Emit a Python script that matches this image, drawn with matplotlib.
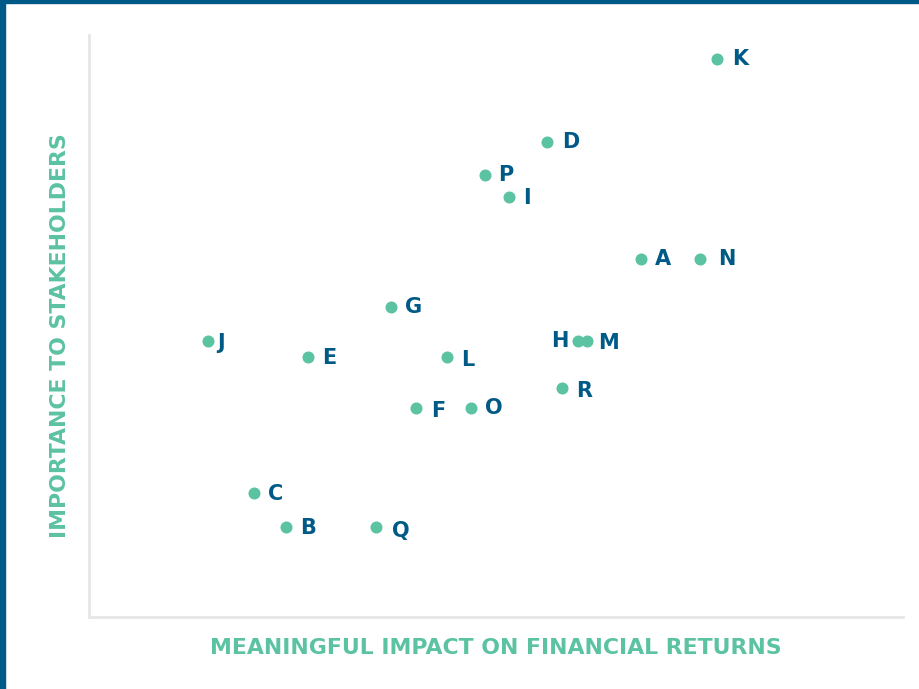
import matplotlib.pyplot as plt
from matplotlib.patches import Rectangle

# issue positions (0-100 scale on both axes)
labels = ['K', 'D', 'P', 'I', 'A', 'N', 'G', 'J', 'E', 'L', 'H', 'M', 'R', 'F', 'O', 'C', 'B', 'Q']
impact = [77.1, 56.3, 48.6, 51.6, 67.8, 75.1, 37.1, 14.6, 26.9, 44.0, 60.1, 61.2, 58.1, 40.2, 46.9, 20.3, 24.2, 35.3]
importance = [95.9, 81.6, 75.9, 72.2, 61.5, 61.5, 53.3, 47.4, 44.7, 44.7, 47.4, 47.4, 39.3, 35.9, 35.9, 21.3, 15.5, 15.5]
# label offsets in points (dx, dy)
offsets = [(11, 0), (11, 0), (10, 0), (10, -1), (10, 0), (13, 0), (10, 0), (7, -1), (10, -1),
           (10, -2), (-7, 0), (8, -1), (10, -2), (11, -2), (10, 0), (10, -1), (10, -1), (11, -3)]

teal = '#5bc2a2'
navy = '#005a87'

fig = plt.figure(figsize=(9.19, 6.89), dpi=100)
ax = fig.add_axes([89 / 919, 72 / 689, 814 / 919, 582 / 689])

ax.scatter(impact, importance, s=75, color=teal, zorder=3, linewidths=0)
for lab, x, y, (dx, dy) in zip(labels, impact, importance, offsets):
    ha = 'right' if dx < 0 else 'left'
    ax.annotate(lab, (x, y), xytext=(dx, dy), textcoords='offset points',
                ha=ha, va='center', fontsize=15, fontweight='bold', color=navy)

ax.set_xlim(0, 100)
ax.set_ylim(0, 100)
ax.set_xticks([])
ax.set_yticks([])
for side in ['top', 'right']:
    ax.spines[side].set_visible(False)
for side in ['left', 'bottom']:
    ax.spines[side].set_color('#e6e6e6')
    ax.spines[side].set_linewidth(2)

fig.text(496 / 919, 1 - 648 / 689, 'MEANINGFUL IMPACT ON FINANCIAL RETURNS',
         ha='center', va='center', fontsize=15.8, fontweight='bold', color=teal)
fig.text(60 / 919, 1 - 336 / 689, 'IMPORTANCE TO STAKEHOLDERS', rotation=90,
         ha='center', va='center', fontsize=15.8, fontweight='bold', color=teal)

# dark blue frame on left and top
fig.patches.append(Rectangle((0, 0), 5 / 919, 1, transform=fig.transFigure, color=navy, zorder=5))
fig.patches.append(Rectangle((0, 1 - 3 / 689), 1, 3 / 689, transform=fig.transFigure, color=navy, zorder=5))

fig.savefig('out.png', dpi=100)
